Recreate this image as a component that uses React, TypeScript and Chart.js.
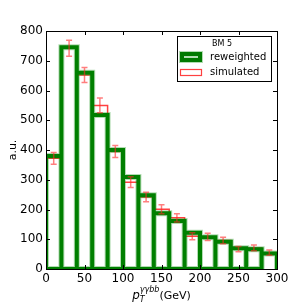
import React, { useEffect, useRef } from "react";
import { Chart, registerables } from "chart.js";

Chart.register(...registerables);

const binEdges = [0, 20, 40, 60, 80, 100, 120, 140, 160, 180, 200, 220, 240, 260, 280, 300];
const reweighted = [380, 745, 660, 518, 400, 309, 248, 187, 161, 122, 107, 92, 70, 66, 52];
const simulated = [372, 742, 652, 550, 395, 292, 242, 201, 172, 110, 108, 96, 67, 71, 55];
const simError = [20, 27, 25, 25, 20, 18, 16, 15, 14, 12, 12, 11, 9, 10, 9];
const xTicks = [0, 50, 100, 150, 200, 250, 300];
const yTicks = [0, 100, 200, 300, 400, 500, 600, 700, 800];
const legendTitle = "BM 5";
const seriesNames = ["reweighted", "simulated"];

const GREEN = "#007a00";
const GREEN_HALO = "rgba(0,140,0,0.3)";
const RED = "rgba(255,0,0,0.75)";
const FONT = "'DejaVu Sans', sans-serif";

function outline(values: number[]) {
  const pts: any[] = [];
  values.forEach((v, i) => {
    const x0 = binEdges[i];
    const x1 = binEdges[i + 1];
    pts.push({ x: x0, y: 0 }, { x: x0, y: v }, { x: x1, y: v }, { x: x1, y: 0 }, { x: x0, y: 0 }, { x: x0, y: null });
  });
  return pts;
}

const framePlugin = {
  id: "frameAndExtras",
  afterDatasetsDraw(chart: any) {
    const ctx = chart.ctx;
    const xs = chart.scales.x;
    const ys = chart.scales.y;
    ctx.save();
    ctx.strokeStyle = "rgba(255,40,40,0.6)";
    ctx.lineWidth = 1.5;
    simulated.forEach((v, i) => {
      const xc = (binEdges[i] + binEdges[i + 1]) / 2;
      const px = xs.getPixelForValue(xc);
      const top = ys.getPixelForValue(v + simError[i]);
      const bot = ys.getPixelForValue(v - simError[i]);
      ctx.beginPath();
      ctx.moveTo(px, top);
      ctx.lineTo(px, bot);
      ctx.moveTo(px - 3, top);
      ctx.lineTo(px + 3, top);
      ctx.moveTo(px - 3, bot);
      ctx.lineTo(px + 3, bot);
      ctx.stroke();
    });
    ctx.restore();
  },
  afterDraw(chart: any) {
    const ctx = chart.ctx;
    const a = chart.chartArea;
    const xs = chart.scales.x;
    const ys = chart.scales.y;
    ctx.save();
    ctx.strokeStyle = "#000";
    ctx.lineWidth = 1;
    ctx.beginPath();
    xTicks.forEach((t) => {
      const px = Math.round(xs.getPixelForValue(t)) + 0.5;
      ctx.moveTo(px, a.bottom);
      ctx.lineTo(px, a.bottom - 4);
      ctx.moveTo(px, a.top);
      ctx.lineTo(px, a.top + 4);
    });
    yTicks.forEach((t) => {
      const py = Math.round(ys.getPixelForValue(t)) + 0.5;
      ctx.moveTo(a.left, py);
      ctx.lineTo(a.left + 4, py);
      ctx.moveTo(a.right, py);
      ctx.lineTo(a.right - 4, py);
    });
    ctx.stroke();
    ctx.strokeRect(Math.round(a.left) + 0.5, Math.round(a.top) + 0.5, Math.round(a.right - a.left), Math.round(a.bottom - a.top));

    // legend
    ctx.fillStyle = "#fff";
    ctx.fillRect(177, 36, 94, 45);
    ctx.strokeStyle = "#000";
    ctx.lineWidth = 1;
    ctx.strokeRect(177.5, 36.5, 94, 45);
    ctx.fillStyle = "#000";
    ctx.font = `8px ${FONT}`;
    ctx.textAlign = "center";
    ctx.textBaseline = "middle";
    ctx.fillText(legendTitle, 222, 44);
    ctx.strokeStyle = GREEN_HALO;
    ctx.lineWidth = 6;
    ctx.strokeRect(182, 54, 18, 6);
    ctx.strokeStyle = GREEN;
    ctx.lineWidth = 4;
    ctx.strokeRect(182, 54, 18, 6);
    ctx.strokeStyle = RED;
    ctx.lineWidth = 1.2;
    ctx.strokeRect(180.5, 69.5, 21, 6);
    ctx.fillStyle = "#000";
    ctx.font = `10px ${FONT}`;
    ctx.textAlign = "left";
    ctx.fillText(seriesNames[0], 210, 57);
    ctx.fillText(seriesNames[1], 210, 72.5);

    // y axis title
    ctx.save();
    ctx.translate(13, (a.top + a.bottom) / 2);
    ctx.rotate(-Math.PI / 2);
    ctx.textAlign = "center";
    ctx.font = `11px ${FONT}`;
    ctx.fillText("a.u.", 0, 0);
    ctx.restore();

    // x axis title with sub/superscripts
    const cx = (a.left + a.right) / 2;
    const by = 299;
    const fonts = [`italic 12px ${FONT}`, `italic 8px ${FONT}`, `italic 8px ${FONT}`, `11px ${FONT}`];
    const texts = ["p", "T", "γγbb", "(GeV)"];
    ctx.textBaseline = "alphabetic";
    ctx.textAlign = "left";
    const widths = texts.map((t, i) => {
      ctx.font = fonts[i];
      return ctx.measureText(t).width;
    });
    const total = widths[0] + Math.max(widths[1], widths[2]) + widths[3];
    let x = cx - total / 2;
    ctx.font = fonts[0];
    ctx.fillText(texts[0], x, by);
    x += widths[0];
    ctx.font = fonts[1];
    ctx.fillText(texts[1], x, by + 3);
    ctx.font = fonts[2];
    ctx.fillText(texts[2], x, by - 7);
    x += Math.max(widths[1], widths[2]);
    ctx.font = fonts[3];
    ctx.fillText(texts[3], x, by);
    ctx.restore();
  },
};

function lineDs(label: string, values: number[], color: string, width: number) {
  return {
    label,
    data: outline(values),
    borderColor: color,
    borderWidth: width,
    pointRadius: 0,
    fill: false,
    spanGaps: false,
    borderJoinStyle: "miter",
    tension: 0,
    clip: 0,
  } as any;
}

export default function App() {
  const ref = useRef<HTMLCanvasElement>(null);
  useEffect(() => {
    if (!ref.current) return;
    const chart = new Chart(ref.current, {
      type: "line",
      data: {
        datasets: [
          lineDs(seriesNames[0] + " halo", reweighted, GREEN_HALO, 6),
          lineDs(seriesNames[0], reweighted, GREEN, 4),
          lineDs(seriesNames[1], simulated, RED, 1.5),
        ],
      },
      options: {
        animation: false,
        responsive: false,
        maintainAspectRatio: false,
        parsing: false as any,
        normalized: true,
        layout: { padding: { top: 31, right: 30, left: 0, bottom: 0 } },
        plugins: { legend: { display: false }, tooltip: { enabled: false } },
        scales: {
          x: {
            type: "linear",
            min: 0,
            max: 300,
            afterBuildTicks: (s: any) => {
              s.ticks = xTicks.map((v) => ({ value: v }));
            },
            afterFit: (s: any) => {
              s.height = 38;
            },
            grid: { display: false, drawTicks: false },
            border: { display: false },
            ticks: {
              color: "#000",
              padding: 3,
              maxRotation: 0,
              autoSkip: false,
              font: { family: FONT, size: 12 },
            },
          },
          y: {
            type: "linear",
            min: 0,
            max: 800,
            afterBuildTicks: (s: any) => {
              s.ticks = yTicks.map((v) => ({ value: v }));
            },
            afterFit: (s: any) => {
              s.width = 46;
            },
            grid: { display: false, drawTicks: false },
            border: { display: false },
            ticks: {
              color: "#000",
              padding: 3,
              autoSkip: false,
              font: { family: FONT, size: 12 },
            },
          },
        },
      },
      plugins: [framePlugin],
    });
    return () => chart.destroy();
  }, []);
  return (
    <div style={{ position: "absolute", left: 0, top: 0, width: 307, height: 307, background: "#fff" }}>
      <canvas ref={ref} width={307} height={307} style={{ width: 307, height: 307 }} />
    </div>
  );
}
